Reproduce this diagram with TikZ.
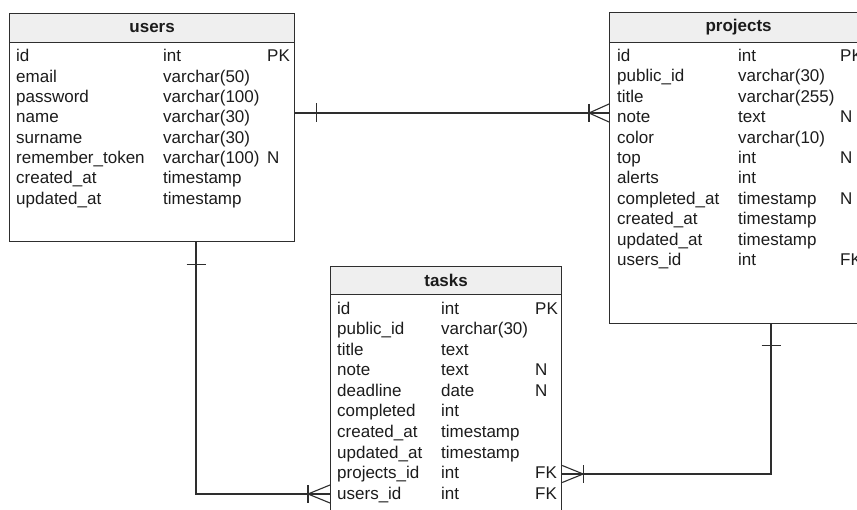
\documentclass[tikz,border=0pt]{standalone}
\usepackage{fontspec}
\setmainfont{Liberation Sans}
\usetikzlibrary{calc}
\definecolor{edge}{HTML}{2E2E2E}
\definecolor{headfill}{HTML}{EFEFEF}
\definecolor{ink}{HTML}{1C1C1C}
\tikzset{
  tbl/.style={draw=edge, line width=1.2pt, fill=white, rectangle, inner sep=0pt, anchor=north west},
  hdr/.style={draw=edge, line width=1.2pt, fill=headfill, rectangle, inner sep=0pt, anchor=north west,
              font=\fontsize{17}{20}\selectfont\bfseries, text=ink},
  cell/.style={inner sep=0pt, anchor=base west, text=ink, font=\fontsize{17}{20}\selectfont},
  conn/.style={draw=edge, line width=1.1pt},
}
\begin{document}
\begin{tikzpicture}[x=1pt, y=-1pt]
\clip (0,0) rectangle (857,510);
\fill[white] (0,0) rectangle (857,510);

% ---- users ----
\node[tbl, minimum width=285, minimum height=228] (users) at (9,13) {};
\node[hdr, minimum width=285, minimum height=29] (usersh) at (9,13) {users};
\foreach \n/\t/\f [count=\i from 0] in {id/int/PK, email/varchar(50)/, password/varchar(100)/,
    name/varchar(30)/, surname/varchar(30)/, remember\_token/varchar(100)/N,
    created\_at/timestamp/, updated\_at/timestamp/}{
  \node[cell] (users-n\i) at (16, {62+20.3*\i}) {\n};
  \node[cell] (users-t\i) at (163, {62+20.3*\i}) {\t};
  \node[cell] (users-f\i) at (267, {62+20.3*\i}) {\f};
}

% ---- projects ----
\node[tbl, minimum width=258, minimum height=311] (projects) at (609,12) {};
\node[hdr, minimum width=258, minimum height=30] (projectsh) at (609,12) {projects};
\foreach \n/\t/\f [count=\i from 0] in {id/int/PK, public\_id/varchar(30)/, title/varchar(255)/,
    note/text/N, color/varchar(10)/, top/int/N, alerts/int/, completed\_at/timestamp/N,
    created\_at/timestamp/, updated\_at/timestamp/, users\_id/int/FK}{
  \node[cell] (projects-n\i) at (617, {61.5+20.4*\i}) {\n};
  \node[cell] (projects-t\i) at (738, {61.5+20.4*\i}) {\t};
  \node[cell] (projects-f\i) at (840, {61.5+20.4*\i}) {\f};
}

% ---- tasks ----
\node[tbl, minimum width=231, minimum height=270] (tasks) at (330,266) {};
\node[hdr, minimum width=231, minimum height=28] (tasksh) at (330,266) {tasks};
\foreach \n/\t/\f [count=\i from 0] in {id/int/PK, public\_id/varchar(30)/, title/text/,
    note/text/N, deadline/date/N, completed/int/, created\_at/timestamp/,
    updated\_at/timestamp/, projects\_id/int/FK, users\_id/int/FK}{
  \node[cell] (tasks-n\i) at (337, {314.5+20.5*\i}) {\n};
  \node[cell] (tasks-t\i) at (441, {314.5+20.5*\i}) {\t};
  \node[cell] (tasks-f\i) at (535, {314.5+20.5*\i}) {\f};
}

% ---- users 1 -- * projects ----
\coordinate (r1a) at (users.east |- 0,113);
\coordinate (r1b) at (projects.west |- 0,113);
\draw[conn] (r1a) -- (r1b);
\draw[conn] ($(r1a)+(21,-9.5)$) -- ++(0,19);
\draw[conn] ($(r1b)+(-20,-9)$) -- ++(0,18);
\draw[conn] ($(r1b)+(0,-9)$) -- ($(r1b)+(-20,0)$) -- ($(r1b)+(0,9)$);

% ---- users 1 -- * tasks ----
\coordinate (r2a) at (users.south -| 196,0);
\coordinate (r2b) at (tasks.west |- 0,494);
\draw[conn] (r2a) |- (r2b);
\draw[conn] ($(r2a)+(-9.5,22)$) -- ++(19,0);
\draw[conn] ($(r2b)+(-22,-9)$) -- ++(0,18);
\draw[conn] ($(r2b)+(0,-9)$) -- ($(r2b)+(-22,0)$) -- ($(r2b)+(0,9)$);

% ---- projects 1 -- * tasks ----
\coordinate (r3a) at (projects.south -| 771,0);
\coordinate (r3b) at (tasks.east |- 0,474);
\draw[conn] (r3a) |- (r3b);
\draw[conn] ($(r3a)+(-9.5,21)$) -- ++(19,0);
\draw[conn] ($(r3b)+(21,-9)$) -- ++(0,18);
\draw[conn] ($(r3b)+(0,-8.5)$) -- ($(r3b)+(21,0)$) -- ($(r3b)+(0,8.5)$);
\end{tikzpicture}
\end{document}
